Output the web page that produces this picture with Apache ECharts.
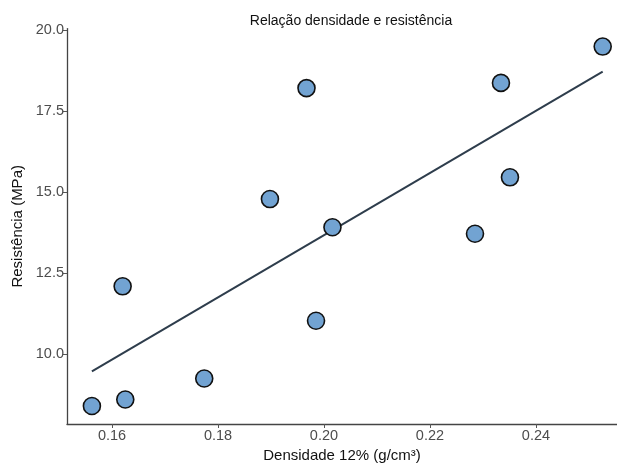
<!DOCTYPE html>
<html>
<head>
<meta charset="utf-8">
<script src="https://cdn.jsdelivr.net/npm/echarts@6/dist/echarts.min.js"></script>
<style>html,body{margin:0;padding:0;background:#fff;}#c{width:617px;height:468px;}</style>
</head>
<body>
<div id="c"></div>
<script>
const densidade = [0.1967, 0.1898, 0.2526, 0.2334, 0.2351, 0.2016, 0.2285, 0.1985, 0.1620, 0.1562, 0.1625, 0.1774];
const resistencia = [18.21, 14.79, 19.49, 18.37, 15.46, 13.92, 13.72, 11.04, 12.10, 8.41, 8.61, 9.26];
const fitX = [0.1562, 0.2526];
const fitY = [9.48, 18.72];
const xTicks = [0.16, 0.18, 0.20, 0.22, 0.24];
const yTicks = [10.0, 12.5, 15.0, 17.5, 20.0];

const chart = echarts.init(document.getElementById('c'), null, {renderer: 'canvas'});
const font = 'Liberation Sans, Arial, sans-serif';
chart.setOption({
  animation: false,
  backgroundColor: '#ffffff',
  title: {
    text: 'Relação densidade e resistência',
    left: 346, top: 9, textAlign: 'center',
    textStyle: {fontFamily: font, fontSize: 14, fontWeight: 'normal', color: '#111'}
  },
  grid: {left: 67, right: 0, top: 28.6, bottom: 41.6, containLabel: false},
  xAxis: {
    type: 'value', min: 0.1515, max: 0.2553,
    name: 'Densidade 12% (g/cm³)', nameLocation: 'middle', nameGap: 24,
    nameTextStyle: {fontFamily: font, fontSize: 15, color: '#111'},
    splitLine: {show: false},
    axisLine: {show: true, lineStyle: {color: '#444', width: 1.3}},
    axisTick: {show: true, length: 4, lineStyle: {color: '#555'}, customValues: xTicks},
    axisLabel: {fontFamily: font, fontSize: 14.5, color: '#4d4d4d', margin: 4, customValues: xTicks,
      formatter: v => v.toFixed(2)}
  },
  yAxis: {
    type: 'value', min: 7.856, max: 20.044,
    name: 'Resistência (MPa)', nameLocation: 'middle', nameGap: 42, nameRotate: 90,
    nameTextStyle: {fontFamily: font, fontSize: 15, color: '#111'},
    splitLine: {show: false},
    axisLine: {show: true, lineStyle: {color: '#444', width: 1.3}},
    axisTick: {show: true, length: 4, lineStyle: {color: '#555'}, customValues: yTicks},
    axisLabel: {fontFamily: font, fontSize: 14.5, color: '#4d4d4d', margin: 3, customValues: yTicks,
      formatter: v => v.toFixed(1)}
  },
  series: [
    {
      type: 'line',
      data: fitX.map((x, i) => [x, fitY[i]]),
      showSymbol: false, symbol: 'none',
      lineStyle: {color: '#2e3d4c', width: 2},
      z: 2
    },
    {
      type: 'scatter',
      data: densidade.map((x, i) => [x, resistencia[i]]),
      symbol: 'circle', symbolSize: 17,
      itemStyle: {color: '#72a3d2', borderColor: '#111', borderWidth: 1.6, opacity: 1},
      z: 3
    }
  ]
});
</script>
</body>
</html>
